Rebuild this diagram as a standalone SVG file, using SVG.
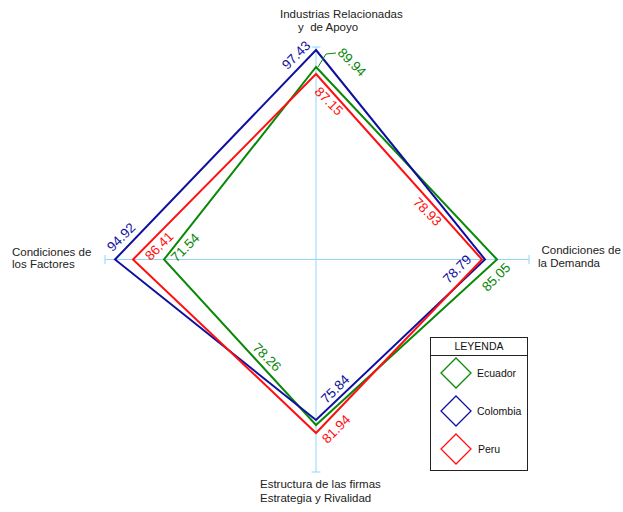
<svg xmlns="http://www.w3.org/2000/svg" width="623" height="512" viewBox="0 0 623 512">
<style>
text{font-family:"Liberation Sans",Arial,sans-serif;}
.ax{stroke:#8fd8f8;stroke-width:1;fill:none;}
.lbl{font-size:11.5px;fill:#222;}
.v{font-size:13.5px;text-anchor:middle;}
.poly{fill:none;stroke-width:2;stroke-linejoin:miter;}
.g{stroke:#0a880a;} .b{stroke:#1010a0;} .r{stroke:#ff1010;}
.tg{fill:#0a880a;} .tb{fill:#1010a0;} .tr{fill:#ff1010;}
.leg{font-size:10.5px;fill:#111;}
</style>
<rect width="623" height="512" fill="#fff"/>
<g id="axes">
<line class="ax" x1="105" y1="259.5" x2="529" y2="259.5"/>
<line class="ax" x1="316" y1="47" x2="316" y2="472"/>
<line class="ax" x1="105" y1="255" x2="105" y2="264"/>
<line class="ax" x1="529" y1="255" x2="529" y2="264"/>
<line class="ax" x1="311.5" y1="47" x2="320.5" y2="47"/>
<line class="ax" x1="311.5" y1="472" x2="320.5" y2="472"/>
</g>
<g id="axis-labels">
<text class="lbl" x="280" y="18">Industrias Relacionadas</text>
<text class="lbl" x="298" y="31" xml:space="preserve">y  de Apoyo</text>
<text class="lbl" x="12" y="255.5">Condiciones de</text>
<text class="lbl" x="12" y="268">los Factores</text>
<text class="lbl" x="541.5" y="254">Condiciones de</text>
<text class="lbl" x="538" y="267">la Demanda</text>
<text class="lbl" x="260" y="488">Estructura de las firmas</text>
<text class="lbl" x="260" y="502">Estrategia y Rivalidad</text>
</g>
<g id="ecuador">
<polygon class="poly g" points="316,67 497,259.5 316,425 164,259.5"/>
</g>
<g id="colombia">
<polygon class="poly b" points="316,50 485,259.5 316,420 115,259.5"/>
</g>
<g id="peru">
<polygon class="poly r" points="316,74 482,259.5 316,433 133,259.5"/>
</g>
<g id="connectors">
<polyline points="318,67 326,54 336,53" fill="none" stroke="#0a880a" stroke-width="1"/>
</g>
<g id="values">
<text class="v tb" x="296" y="55" dy="0.35em" transform="rotate(-45 296 55)">97.43</text>
<text class="v tg" x="352" y="62" dy="0.35em" transform="rotate(45 352 62)">89.94</text>
<text class="v tr" x="329" y="101" dy="0.35em" transform="rotate(45 329 101)">87.15</text>
<text class="v tb" x="121" y="237" dy="0.35em" transform="rotate(-45 121 237)">94.92</text>
<text class="v tr" x="159" y="246" dy="0.35em" transform="rotate(-45 159 246)">86.41</text>
<text class="v tg" x="185" y="247.5" dy="0.35em" transform="rotate(-45 185 247.5)">71.54</text>
<text class="v tr" x="427.5" y="211.5" dy="0.35em" transform="rotate(45 427.5 211.5)">78.93</text>
<text class="v tb" x="457" y="269" dy="0.35em" transform="rotate(-45 457 269)">78.79</text>
<text class="v tg" x="496" y="277" dy="0.35em" transform="rotate(-45 496 277)">85.05</text>
<text class="v tg" x="267" y="357" dy="0.35em" transform="rotate(45 267 357)">78.26</text>
<text class="v tb" x="335" y="389" dy="0.35em" transform="rotate(-45 335 389)">75.84</text>
<text class="v tr" x="336" y="429" dy="0.35em" transform="rotate(-45 336 429)">81.94</text>
</g>
<g id="legend">
<rect x="430.5" y="337.5" width="97" height="133" fill="#fff" stroke="#222" stroke-width="1"/>
<line x1="430.5" y1="355.5" x2="527.5" y2="355.5" stroke="#222" stroke-width="1"/>
<text class="leg" x="479" y="350" text-anchor="middle">LEYENDA</text>
<polygon points="456,358 471,373 456,388 441,373" fill="none" stroke="#0a880a" stroke-width="1.3"/>
<text class="leg" x="477" y="377">Ecuador</text>
<polygon points="456,396 471,411 456,426 441,411" fill="none" stroke="#1010a0" stroke-width="1.3"/>
<text class="leg" x="477" y="415">Colombia</text>
<polygon points="456,434 471,449 456,464 441,449" fill="none" stroke="#ff1010" stroke-width="1.3"/>
<text class="leg" x="478" y="453">Peru</text>
</g>
</svg>
